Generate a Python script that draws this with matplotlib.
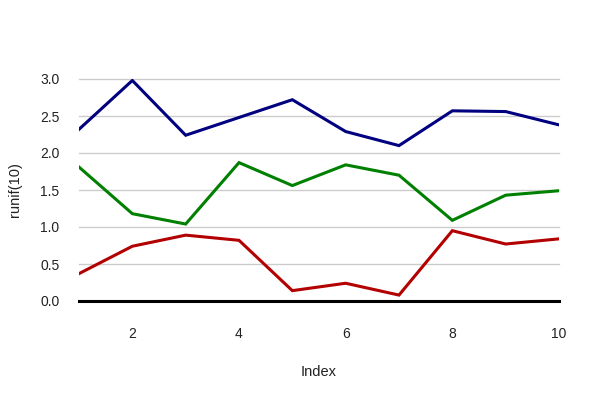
import numpy as np
import matplotlib
matplotlib.use("Agg")
import matplotlib.pyplot as plt

plt.rcParams['font.family'] = ['Liberation Sans', 'DejaVu Sans']

# data
index = np.arange(1, 11)
blue_vals = [2.32, 2.98, 2.24, 2.48, 2.72, 2.29, 2.10, 2.57, 2.56, 2.38]
green_vals = [1.81, 1.18, 1.04, 1.87, 1.56, 1.84, 1.70, 1.09, 1.43, 1.49]
red_vals = [0.37, 0.74, 0.89, 0.82, 0.14, 0.24, 0.08, 0.95, 0.77, 0.84]
series = [(blue_vals, "#000080"), (green_vals, "#008000"), (red_vals, "#b30000")]

x_ticks = [2, 4, 6, 8, 10]
y_ticks = [0.0, 0.5, 1.0, 1.5, 2.0, 2.5, 3.0]

fig = plt.figure(figsize=(6, 4), dpi=100)
ax = fig.add_axes([79/600, 99/400, 480/600, 222/400])

for yv in y_ticks[1:]:
    ax.axhline(yv, color="#cccccc", lw=1.0, zorder=1, clip_on=False)
ax.axhline(0, color="black", lw=2.2, zorder=3, clip_on=False)

for vals, col in series:
    ax.plot(index, vals, color=col, lw=2.2, zorder=2, solid_joinstyle="miter")

ax.set_xlim(1, 10)
ax.set_ylim(0, 3)
ax.set_xticks(x_ticks)
ax.set_xticklabels([str(t) for t in x_ticks])
ax.set_yticks(y_ticks)
ax.set_yticklabels([f"{t:.1f}" for t in y_ticks])
ax.tick_params(axis="both", length=0, labelsize=10, colors="#222222")
ax.tick_params(axis="x", pad=19)
ax.tick_params(axis="y", pad=14)
for s in ax.spines.values():
    s.set_visible(False)

ax.set_xlabel("Index", fontsize=10.5, color="#222222", labelpad=17)
ax.set_ylabel("runif(10)", fontsize=10.5, color="#222222", labelpad=13)

fig.savefig("out.png", dpi=100)
